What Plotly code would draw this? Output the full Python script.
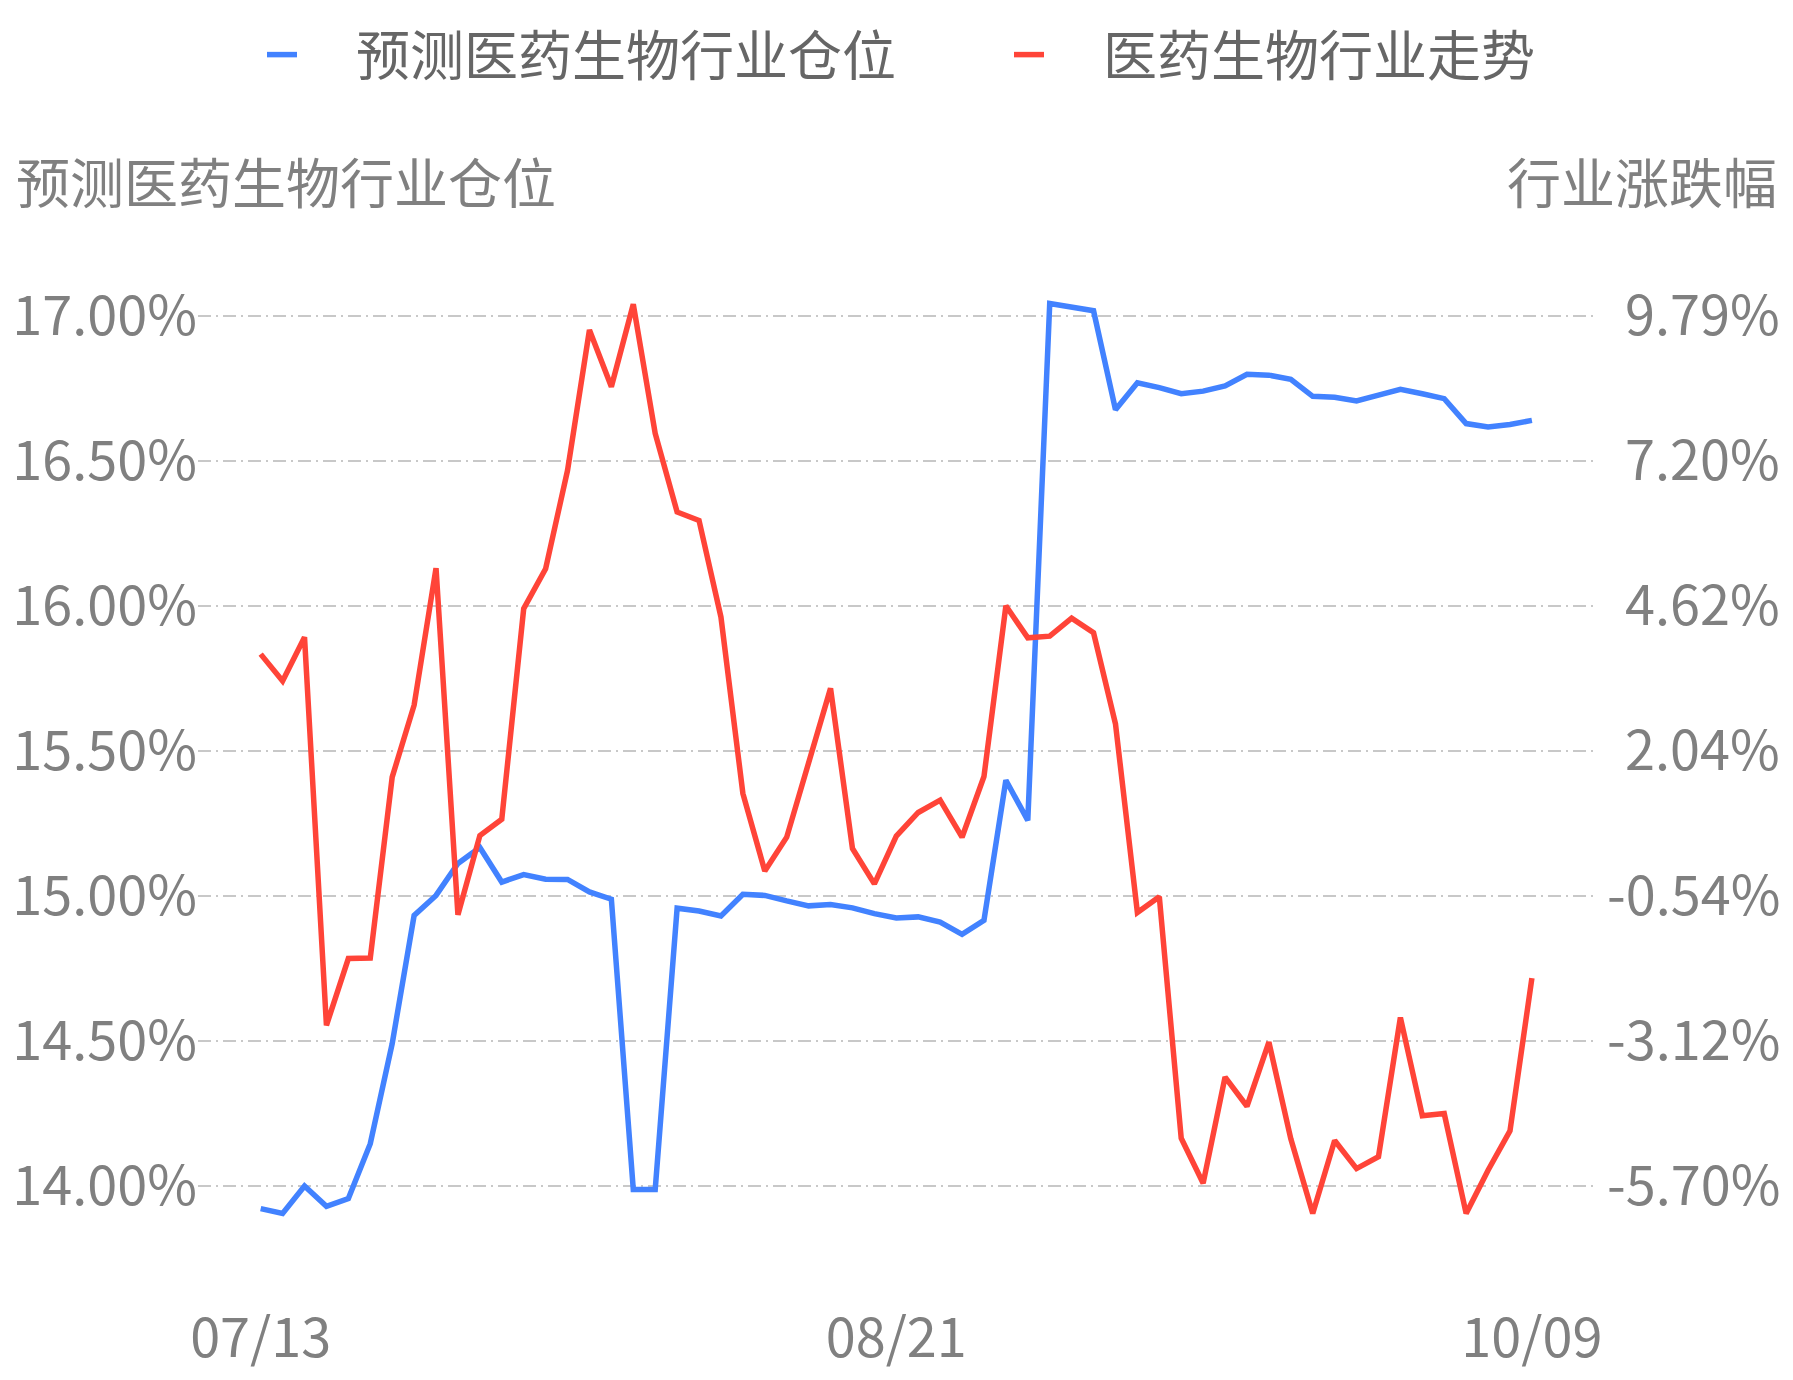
import plotly.graph_objects as go

# ---- data ----
DATES = [
    "07/13", "07/14", "07/15", "07/16", "07/17", "07/20", "07/21", "07/22", "07/23", "07/24",
    "07/27", "07/28", "07/29", "07/30", "07/31", "08/03", "08/04", "08/05", "08/06", "08/07",
    "08/10", "08/11", "08/12", "08/13", "08/14", "08/17", "08/18", "08/19", "08/20", "08/21",
    "08/24", "08/25", "08/26", "08/27", "08/28", "08/31", "09/01", "09/02", "09/03", "09/04",
    "09/07", "09/08", "09/09", "09/10", "09/11", "09/14", "09/15", "09/16", "09/17", "09/18",
    "09/21", "09/22", "09/23", "09/24", "09/25", "09/28", "09/29", "09/30", "10/09",
]

POSITION = [  # 预测医药生物行业仓位 (%)
    13.922, 13.905, 14.000, 13.930, 13.957, 14.146, 14.491, 14.933, 15.002, 15.112,
    15.167, 15.048, 15.074, 15.058, 15.057, 15.014, 14.989, 13.988, 13.988, 14.958,
    14.948, 14.931, 15.006, 15.002, 14.983, 14.966, 14.971, 14.959, 14.939, 14.924,
    14.928, 14.910, 14.868, 14.916, 15.399, 15.261, 17.043, 17.031, 17.018, 16.677,
    16.770, 16.753, 16.732, 16.741, 16.759, 16.799, 16.796, 16.782, 16.723, 16.720,
    16.707, 16.727, 16.747, 16.732, 16.715, 16.629, 16.617, 16.626, 16.640,
]

TREND = [  # 医药生物行业走势 (行业涨跌幅, %)
    3.77, 3.29, 4.07, -2.84, -1.65, -1.64, 1.58, 2.86, 5.30, -0.87,
    0.54, 0.83, 4.58, 5.29, 7.04, 9.54, 8.53, 10.00, 7.70, 6.30,
    6.15, 4.43, 1.29, -0.09, 0.51, 1.87, 3.16, 0.31, -0.32, 0.53,
    0.95, 1.17, 0.51, 1.59, 4.63, 4.06, 4.09, 4.41, 4.15, 2.53,
    -0.83, -0.55, -4.85, -5.65, -3.76, -4.28, -3.14, -4.86, -6.19, -4.89,
    -5.39, -5.18, -2.70, -4.45, -4.41, -6.19, -5.42, -4.72, -2.00,
]

X_TICKS = ["07/13", "08/21", "10/09"]
LEFT_TICKS = [14.0, 14.5, 15.0, 15.5, 16.0, 16.5, 17.0]
LEFT_LABELS = ["14.00%", "14.50%", "15.00%", "15.50%", "16.00%", "16.50%", "17.00%"]
RIGHT_TICKS = [-5.70, -3.12, -0.54, 2.04, 4.62, 7.20, 9.79]
RIGHT_LABELS = ["-5.70%", "-3.12%", "-0.54%", "2.04%", "4.62%", "7.20%", "9.79%"]

SERIES_NAMES = ["预测医药生物行业仓位", "医药生物行业走势"]
LEFT_TITLE = "预测医药生物行业仓位"
RIGHT_TITLE = "行业涨跌幅"

# ---- styling ----
FONT = "Noto Sans CJK SC, Microsoft YaHei, sans-serif"
BLUE = "#4282ff"
RED = "#ff4438"
TICK_GRAY = "#808080"
LEGEND_GRAY = "#666666"
FS = 54
LW = 5.5

W, H = 1793, 1380
ML, MR, MT, MB = 198, 196, 258, 78
PW, PH = W - ML - MR, H - MT - MB

# pad positive right labels so the column appears right aligned
right_text = [("\u2004" + t) if not t.startswith("-") else t for t in RIGHT_LABELS]
# legend names: gap after the symbol, and trailing gap to space the two entries
legend_names = ["\u2003" + SERIES_NAMES[0] + "\u2003\u2003", "\u2003" + SERIES_NAMES[1]]

fig = go.Figure()
fig.add_trace(go.Scatter(
    x=DATES, y=POSITION, name=legend_names[0], mode="lines",
    line=dict(color=BLUE, width=LW), yaxis="y",
))
fig.add_trace(go.Scatter(
    x=DATES, y=TREND, name=legend_names[1], mode="lines",
    line=dict(color=RED, width=LW), yaxis="y2",
))

fig.update_layout(
    width=W, height=H,
    margin=dict(l=ML, r=MR, t=MT, b=MB, pad=0, autoexpand=False),
    paper_bgcolor="white", plot_bgcolor="white",
    font=dict(family=FONT, size=FS, color=TICK_GRAY),
    showlegend=True,
    legend=dict(
        orientation="h", xref="container", yref="container",
        x=262 / W, xanchor="left",
        y=1 - 55 / H, yanchor="middle",
        font=dict(family=FONT, size=FS, color=LEGEND_GRAY),
        bgcolor="rgba(0,0,0,0)",
    ),
    xaxis=dict(
        type="category", range=[-2.86, 60.97], automargin=False,
        tickmode="array", tickvals=X_TICKS, ticktext=X_TICKS,
        showgrid=False, showline=False, zeroline=False, ticks="",
        tickfont=dict(family=FONT, size=FS, color=TICK_GRAY),
    ),
    yaxis=dict(
        range=[13.6, 17.2], tickmode="array", tickvals=LEFT_TICKS, ticktext=LEFT_LABELS,
        automargin=False,
        showgrid=True, gridcolor="#c8c8c8", gridwidth=1.5, griddash="13px,5px,2px,5px",
        zeroline=False, showline=False, ticks="",
        tickfont=dict(family=FONT, size=FS, color=TICK_GRAY),
    ),
    yaxis2=dict(
        overlaying="y", side="right", automargin=False,
        range=[-7.7654, 10.8227], tickmode="array", tickvals=RIGHT_TICKS, ticktext=right_text,
        ticklabelstandoff=9,
        showgrid=False, zeroline=False, showline=False, ticks="",
        tickfont=dict(family=FONT, size=FS, color=TICK_GRAY),
    ),
    annotations=[
        dict(text=LEFT_TITLE, xref="paper", yref="paper",
             x=(14 - ML) / PW, y=(H - MB - 180) / PH,
             xanchor="left", yanchor="middle", showarrow=False,
             font=dict(family=FONT, size=FS, color=TICK_GRAY)),
        dict(text=RIGHT_TITLE, xref="paper", yref="paper",
             x=(1779 - ML) / PW, y=(H - MB - 180) / PH,
             xanchor="right", yanchor="middle", showarrow=False,
             font=dict(family=FONT, size=FS, color=TICK_GRAY)),
    ],
)

fig.write_html("out.html", config={"displayModeBar": False},
               post_script="document.body.style.margin='0';")
